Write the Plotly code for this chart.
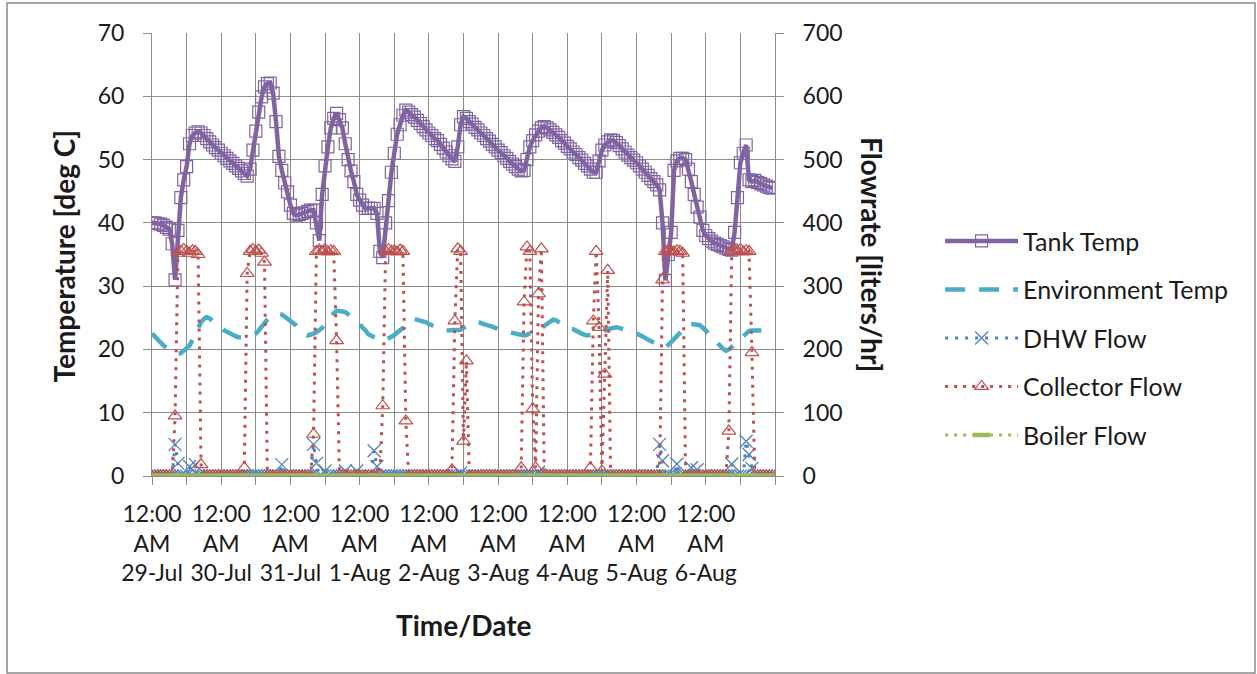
import plotly.graph_objects as go

# ---------------- data (hourly samples, 29-Jul 00:00 .. 6-Aug 23:00) ----------------
hours = list(range(216))
day_labels = ["29-Jul", "30-Jul", "31-Jul", "1-Aug", "2-Aug", "3-Aug", "4-Aug", "5-Aug", "6-Aug"]

tank_temp = [
    40.0, 40.0, 39.9, 39.8, 39.6, 39.3, 39.0, 36.7, 31.0, 38.8, 44.0, 46.8, 48.9, 52.5, 53.8, 54.2, 54.4, 54.2, 53.8, 53.3, 52.8, 52.3, 51.9, 51.5,
    51.0, 50.6, 50.2, 49.8, 49.4, 49.0, 48.6, 48.2, 47.8, 47.4, 48.5, 51.5, 54.5, 57.5, 59.9, 61.5, 62.0, 62.1, 60.5, 56.0, 50.5, 48.3, 46.3, 44.9,
    42.8, 41.5, 41.2, 41.3, 41.5, 41.6, 41.8, 42.0, 42.0, 40.0, 37.2, 44.5, 49.0, 52.0, 55.0, 56.5, 57.3, 56.3, 55.0, 52.5, 50.0, 48.2, 46.5, 44.5,
    43.6, 42.8, 42.3, 42.3, 42.3, 42.3, 41.5, 35.5, 34.5, 40.0, 43.5, 48.0, 51.0, 54.0, 55.5, 57.0, 57.8, 57.5, 57.1, 56.7, 56.2, 55.7, 55.2, 54.7,
    54.2, 53.8, 53.3, 53.0, 52.4, 51.8, 51.2, 50.6, 50.1, 49.7, 52.0, 55.5, 56.8, 56.5, 56.0, 55.6, 55.1, 54.7, 54.2, 53.8, 53.3, 52.9, 52.4, 52.0,
    51.5, 51.1, 50.6, 50.2, 49.7, 49.3, 48.9, 48.5, 48.2, 48.3, 50.0, 52.0, 53.0, 53.9, 54.5, 55.0, 55.2, 55.0, 54.7, 54.3, 53.9, 53.5, 53.0, 52.6,
    52.1, 51.7, 51.2, 50.8, 50.3, 49.9, 49.4, 49.0, 48.5, 48.0, 48.0, 49.8, 51.5, 52.3, 52.8, 53.1, 53.0, 52.7, 52.2, 51.7, 51.2, 50.7, 50.3, 49.9,
    49.5, 49.0, 48.5, 48.0, 47.5, 47.0, 46.5, 46.0, 45.2, 40.0, 30.9, 35.0, 38.5, 48.3, 49.8, 50.2, 50.2, 50.0, 48.5, 46.5, 44.5, 42.5, 40.9, 38.8,
    38.0, 37.5, 37.1, 36.8, 36.6, 36.4, 36.2, 36.0, 35.8, 35.7, 38.5, 44.0, 49.5, 51.0, 52.3, 46.8, 46.5, 46.7, 46.4, 46.2, 46.0, 45.8, 45.6, 45.5,
]

env_temp = [
    22.5, 22.0, 21.5, 21.0, 20.6, 20.3, 20.0, 19.7, 19.5, 19.3, 19.4, 19.8, 20.2, 20.6, 21.5, 22.5, 23.5, 24.3, 24.8, 25.1, 24.9, 24.5, 24.0, 23.6,
    23.3, 23.0, 22.8, 22.5, 22.3, 22.1, 21.9, 21.9, 22.0, 22.1, 22.2, 22.3, 22.5, 23.0, 23.6, 24.2, 24.7, 25.1, 25.4, 25.6, 25.6, 25.5, 25.2, 24.9,
    24.6, 24.3, 23.8, 23.3, 22.8, 22.4, 22.2, 22.3, 22.5, 22.7, 23.0, 23.4, 24.0, 24.6, 25.2, 25.7, 26.1, 26.1, 26.0, 25.9, 25.6, 25.2, 24.8, 24.4,
    24.0, 23.5, 23.0, 22.4, 22.1, 21.9, 21.7, 21.5, 21.4, 21.5, 21.7, 22.0, 22.3, 22.6, 23.0, 23.4, 23.8, 24.3, 24.7, 24.8, 24.7, 24.6, 24.4, 24.3,
    24.0, 23.8, 23.6, 23.4, 23.2, 23.1, 23.0, 23.0, 23.0, 23.0, 23.0, 23.1, 23.4, 23.7, 24.0, 24.2, 24.3, 24.3, 24.2, 24.0, 23.9, 23.8, 23.6, 23.4,
    23.2, 23.0, 22.9, 22.8, 22.7, 22.6, 22.4, 22.3, 22.2, 22.2, 22.3, 22.5, 22.7, 23.0, 23.2, 23.4, 23.7, 24.0, 24.4, 24.7, 24.6, 24.4, 24.1, 23.8,
    23.5, 23.3, 23.2, 22.9, 22.7, 22.5, 22.3, 22.2, 22.3, 22.4, 22.5, 22.7, 22.8, 23.0, 23.2, 23.3, 23.4, 23.5, 23.4, 23.3, 23.1, 23.0, 22.8, 22.7,
    22.5, 22.3, 22.0, 21.8, 21.5, 21.3, 21.1, 20.9, 20.7, 20.5, 20.3, 20.7, 21.2, 21.7, 22.2, 22.7, 23.2, 23.7, 24.0, 24.0, 24.0, 23.9, 23.8, 23.5,
    23.0, 22.5, 22.0, 21.5, 21.0, 20.5, 20.1, 19.8, 20.0, 20.4, 20.8, 21.2, 21.5, 22.0, 22.5, 22.9, 23.0, 23.0, 23.0, 23.0, 23.0, 23.0, 23.0, 23.0,
]

dhw_flow = [
    0, 0, 0, 0, 0, 0, 0, 0, 50, 20, 0, 0, 0, 15, 0, 18, 0, 0, 0, 0, 0, 0, 0, 0,
    0, 0, 0, 0, 0, 0, 0, 0, 0, 0, 0, 0, 0, 0, 0, 0, 0, 0, 0, 0, 0, 18, 0, 0,
    0, 0, 0, 0, 0, 0, 0, 0, 50, 20, 0, 0, 8, 0, 0, 0, 0, 0, 0, 8, 0, 0, 0, 8,
    0, 0, 0, 0, 0, 40, 15, 0, 0, 0, 0, 0, 0, 0, 0, 0, 0, 0, 0, 0, 0, 0, 0, 0,
    0, 0, 0, 0, 0, 0, 0, 0, 0, 0, 0, 5, 0, 0, 0, 0, 0, 0, 0, 0, 0, 0, 0, 0,
    0, 0, 0, 0, 0, 0, 0, 0, 0, 0, 0, 0, 0, 0, 6, 0, 0, 0, 0, 0, 0, 0, 0, 0,
    0, 0, 0, 0, 0, 0, 0, 0, 0, 0, 0, 0, 0, 0, 0, 0, 0, 0, 0, 0, 0, 0, 0, 0,
    0, 0, 0, 0, 0, 0, 0, 0, 50, 24, 0, 0, 0, 0, 19, 0, 0, 0, 0, 13, 0, 10, 0, 0,
    0, 0, 0, 0, 0, 0, 0, 0, 0, 19, 0, 0, 0, 0, 55, 34, 12, 0, 0, 0, 0, 0, 0, 0,
]

collector_flow = [
    0, 0, 0, 0, 0, 0, 0, 0, 95, 352, 355, 358, 355, 352, 356, 355, 350, 18, 0, 0, 0, 0, 0, 0,
    0, 0, 0, 0, 0, 0, 0, 0, 13, 320, 355, 358, 355, 357, 352, 338, 0, 0, 0, 0, 0, 0, 0, 0,
    0, 0, 0, 0, 0, 0, 0, 0, 66, 355, 357, 355, 358, 354, 356, 355, 214, 0, 0, 0, 0, 0, 0, 0,
    0, 0, 0, 0, 0, 0, 0, 0, 111, 355, 358, 355, 356, 354, 357, 355, 87, 0, 0, 0, 0, 0, 0, 0,
    0, 0, 0, 0, 0, 0, 0, 0, 10, 245, 359, 355, 55, 182, 0, 0, 0, 0, 0, 0, 0, 0, 0, 0,
    0, 0, 0, 0, 0, 0, 0, 0, 13, 275, 362, 355, 106, 13, 288, 359, 0, 0, 0, 0, 0, 0, 0, 0,
    0, 0, 0, 0, 0, 0, 0, 0, 13, 245, 355, 235, 8, 161, 325, 0, 0, 0, 0, 0, 0, 0, 0, 0,
    0, 0, 0, 0, 0, 0, 0, 0, 0, 310, 355, 357, 355, 354, 356, 355, 352, 0, 0, 0, 0, 0, 0, 0,
    0, 0, 0, 0, 0, 0, 0, 0, 71, 355, 357, 355, 358, 354, 356, 355, 195, 0, 0, 0, 0, 0, 0, 0,
]

boiler_flow = [
    0, 0, 0, 0, 0, 0, 0, 0, 0, 0, 0, 0, 0, 0, 0, 0, 0, 0, 0, 0, 0, 0, 0, 0,
    0, 0, 0, 0, 0, 0, 0, 0, 0, 0, 0, 0, 0, 0, 0, 0, 0, 0, 0, 0, 0, 0, 0, 0,
    0, 0, 0, 0, 0, 0, 0, 0, 0, 0, 0, 0, 0, 0, 0, 0, 0, 0, 0, 0, 0, 0, 0, 0,
    0, 0, 0, 0, 0, 0, 0, 0, 0, 0, 0, 0, 0, 0, 0, 0, 0, 0, 0, 0, 0, 0, 0, 0,
    0, 0, 0, 0, 0, 0, 0, 0, 0, 0, 0, 0, 0, 0, 0, 0, 0, 0, 0, 0, 0, 0, 0, 0,
    0, 0, 0, 0, 0, 0, 0, 0, 0, 0, 0, 0, 0, 0, 0, 0, 0, 0, 0, 0, 0, 0, 0, 0,
    0, 0, 0, 0, 0, 0, 0, 0, 0, 0, 0, 0, 0, 0, 0, 0, 0, 0, 0, 0, 0, 0, 0, 0,
    0, 0, 0, 0, 0, 0, 0, 0, 0, 0, 0, 0, 0, 0, 0, 0, 0, 0, 0, 0, 0, 0, 0, 0,
    0, 0, 0, 0, 0, 0, 0, 0, 0, 0, 0, 0, 0, 0, 0, 0, 0, 0, 0, 0, 0, 0, 0, 0,
]

# ---------------- styling ----------------
FONT = "Lato"
TXT = "#1a1a1a"
GRID = "#8c8c8c"
PURPLE = "#8064A2"
TEAL = "#4BACC6"
BLUE = "#4F81BD"
RED = "#C0504D"
GREEN = "#9BBB59"

fig = go.Figure()

fig.add_trace(go.Scatter(
    x=hours, y=tank_temp, name="Tank Temp", mode="lines+markers", legendgroup="a",
    line=dict(color=PURPLE, width=4.5),
    marker=dict(symbol="square-open", size=12, color=PURPLE, line=dict(width=1.2, color=PURPLE)),
))
fig.add_trace(go.Scatter(
    x=hours, y=env_temp, name="Environment Temp", mode="lines", legendgroup="b",
    line=dict(color=TEAL, width=4.5, dash="20px,14px"),
))
fig.add_trace(go.Scatter(
    x=hours, y=dhw_flow, name="DHW Flow", mode="lines+markers", yaxis="y2", legendgroup="c",
    line=dict(color=BLUE, width=3, dash="3px,7px"),
    marker=dict(symbol="x-thin-open", size=13, color=BLUE, line=dict(width=1.3, color=BLUE)),
))
fig.add_trace(go.Scatter(
    x=hours, y=collector_flow, name="Collector Flow", mode="lines+markers", yaxis="y2", legendgroup="d",
    line=dict(color=RED, width=3, dash="3px,6px"),
    marker=dict(symbol="triangle-up-open", size=12, color=RED, line=dict(width=1.2, color=RED)),
))
fig.add_trace(go.Scatter(
    x=hours, y=boiler_flow, name="Boiler Flow", mode="lines+markers", yaxis="y2", legendgroup="e",
    line=dict(color=GREEN, width=3, dash="3px,6px"),
    marker=dict(symbol="line-ew-open", size=12, color=GREEN, line=dict(width=4.5, color=GREEN)),
))

tickvals = list(range(0, 217, 12))
ticktext = []
for i, v in enumerate(tickvals):
    if v % 24 == 0 and v // 24 < len(day_labels):
        ticktext.append("12:00<br>AM<br>" + day_labels[v // 24])
    else:
        ticktext.append("")

axis_common = dict(
    showline=True, linecolor=GRID, linewidth=1,
    ticks="outside", ticklen=8, tickcolor=GRID, tickwidth=1,
    tickfont=dict(family=FONT, size=23, color=TXT),
    zeroline=False,
)

TITLE_FONT = dict(family=FONT, size=28, color=TXT)

fig.update_layout(
    width=1257, height=674,
    margin=dict(l=152, r=482, t=33, b=198),
    paper_bgcolor="white", plot_bgcolor="white",
    font=dict(family=FONT, color=TXT),
    xaxis=dict(range=[0, 216], tickmode="array", tickvals=tickvals, ticktext=ticktext,
               showgrid=True, gridcolor=GRID, gridwidth=1, tickangle=0,
               ticklabelstandoff=9, **axis_common),
    yaxis=dict(range=[0, 70], dtick=10, showgrid=True, gridcolor=GRID, gridwidth=1,
               ticklabelstandoff=14, **axis_common),
    yaxis2=dict(range=[0, 700], dtick=100, overlaying="y", side="right", showgrid=False,
                ticklabelstandoff=14, **axis_common),
    showlegend=True,
    legend=dict(x=1.265, xanchor="left", y=0.582, yanchor="top",
                font=dict(family=FONT, size=25, color=TXT),
                traceorder="grouped", tracegroupgap=13, itemwidth=73,
                bgcolor="rgba(0,0,0,0)"),
    annotations=[
        dict(text="<b>Temperature [deg C]</b>", x=-0.1413, y=0.4977, xref="paper", yref="paper",
             xanchor="center", yanchor="middle",
             textangle=-90, showarrow=False, font=TITLE_FONT),
        dict(text="<b>Flowrate [liters/hr]</b>", x=1.1557, y=0.5011, xref="paper", yref="paper",
             xanchor="center", yanchor="middle",
             textangle=90, showarrow=False, font=TITLE_FONT),
        dict(text="<b>Time/Date</b>", x=0.5008, y=-0.3363, xref="paper", yref="paper",
             xanchor="center", yanchor="middle",
             showarrow=False, font=TITLE_FONT),
    ],
    shapes=[
        dict(type="rect", xref="paper", yref="paper", x0=-0.2327, x1=1.7705, y0=-0.4447, y1=1.0677,
             line=dict(color="#8a8a8a", width=1.5), fillcolor="rgba(0,0,0,0)", layer="below"),
    ],
)

fig.write_html("out.html")
